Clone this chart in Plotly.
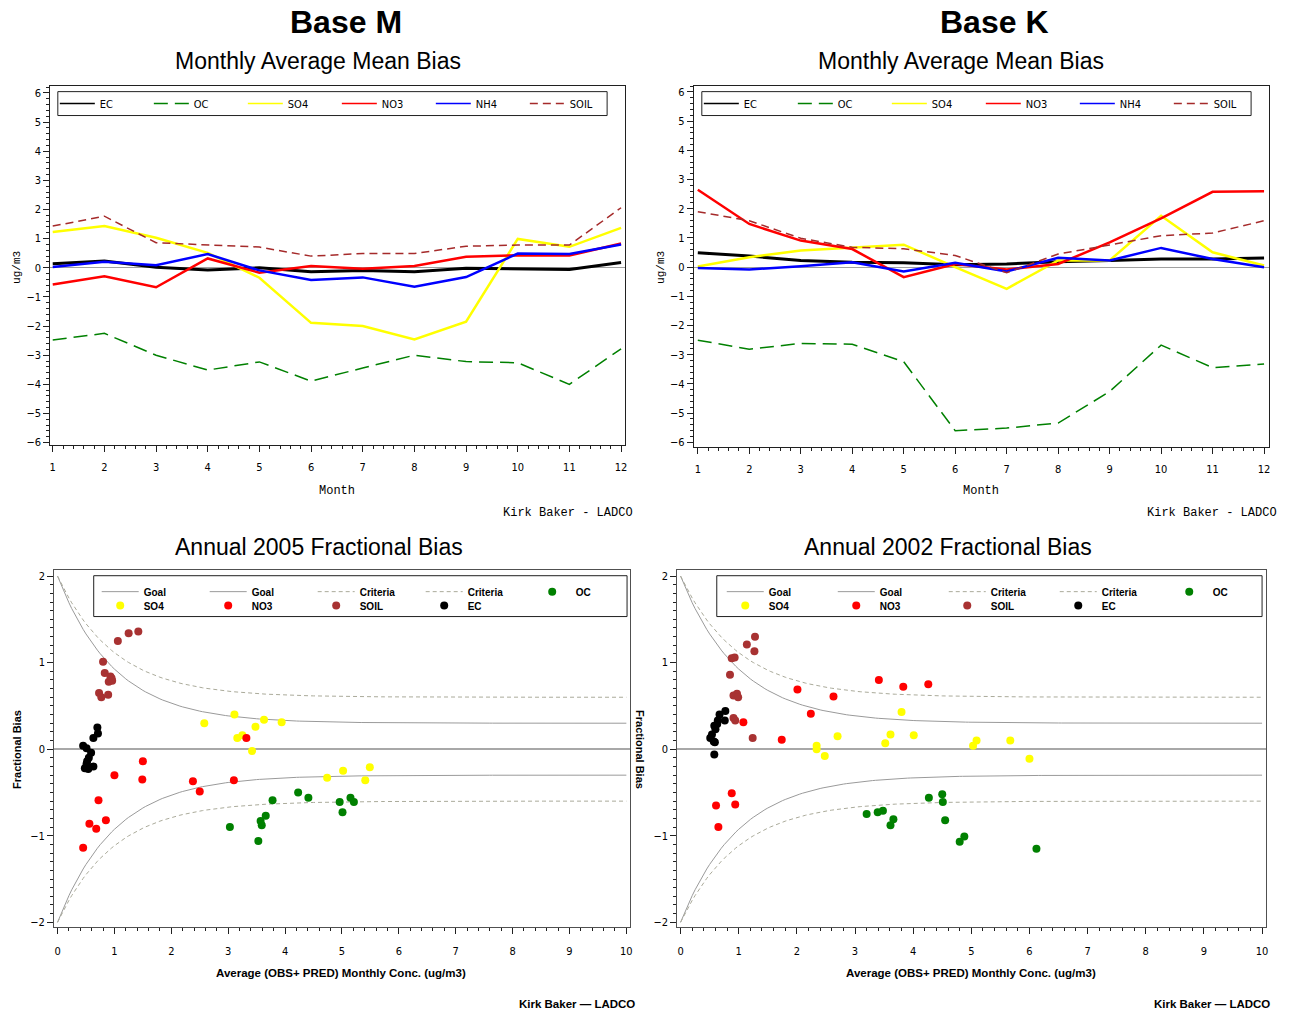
import numpy as np
import plotly.graph_objects as go

W, H = 1289, 1013

# ---------------- data ----------------
months = [1, 2, 3, 4, 5, 6, 7, 8, 9, 10, 11, 12]
species_top = ["EC", "OC", "SO4", "NO3", "NH4", "SOIL"]

# Base M monthly mean bias (ug/m3)
M_EC = [0.14, 0.23, 0.02, -0.08, 0.00, -0.14, -0.09, -0.14, -0.02, -0.03, -0.06, 0.18]
M_OC = [-2.48, -2.25, -3.00, -3.51, -3.23, -3.89, -3.44, -3.00, -3.22, -3.26, -4.00, -2.78]
M_SO4 = [1.23, 1.43, 1.03, 0.51, -0.34, -1.89, -2.00, -2.46, -1.85, 0.99, 0.72, 1.37]
M_NO3 = [-0.57, -0.29, -0.67, 0.32, -0.17, 0.06, -0.03, 0.06, 0.38, 0.43, 0.42, 0.83]
M_NH4 = [0.03, 0.21, 0.09, 0.47, -0.09, -0.42, -0.33, -0.65, -0.32, 0.49, 0.47, 0.80]
M_SOIL = [1.43, 1.77, 0.86, 0.78, 0.71, 0.40, 0.49, 0.49, 0.74, 0.78, 0.78, 2.06]

# Base K monthly mean bias (ug/m3)
K_EC = [0.49, 0.38, 0.23, 0.17, 0.15, 0.08, 0.11, 0.19, 0.23, 0.28, 0.28, 0.31]
K_OC = [-2.50, -2.81, -2.61, -2.64, -3.24, -5.60, -5.51, -5.34, -4.26, -2.67, -3.44, -3.32]
K_SO4 = [0.02, 0.34, 0.57, 0.68, 0.77, 0.00, -0.74, 0.23, 0.23, 1.76, 0.51, 0.06]
K_NO3 = [2.65, 1.48, 0.91, 0.62, -0.34, 0.11, -0.08, 0.11, 0.85, 1.67, 2.58, 2.60]
K_NH4 = [-0.03, -0.08, 0.03, 0.17, -0.15, 0.15, -0.15, 0.32, 0.23, 0.66, 0.28, 0.00]
K_SOIL = [1.90, 1.59, 0.99, 0.68, 0.63, 0.40, -0.19, 0.45, 0.76, 1.08, 1.17, 1.59]

# Annual 2005 fractional bias: x = average (OBS+PRED) conc, y = fractional bias
A05_SO4_x = [2.58, 3.11, 3.16, 3.25, 3.42, 3.48, 3.63, 3.94, 4.74, 5.02, 5.41, 5.49]
A05_SO4_y = [0.30, 0.40, 0.13, 0.16, -0.02, 0.26, 0.34, 0.31, -0.33, -0.25, -0.36, -0.21]
A05_NO3_x = [1.50, 1.00, 1.49, 2.38, 2.50, 3.10, 3.32, 0.72, 0.56, 0.85, 0.68, 0.45]
A05_NO3_y = [-0.14, -0.30, -0.35, -0.37, -0.49, -0.36, 0.13, -0.59, -0.86, -0.82, -0.92, -1.14]
A05_SOIL_x = [1.42, 1.25, 1.06, 0.80, 0.83, 0.93, 0.96, 0.90, 0.73, 0.77, 0.89, 0.95]
A05_SOIL_y = [1.36, 1.34, 1.25, 1.01, 0.88, 0.84, 0.79, 0.78, 0.65, 0.60, 0.63, 0.82]
A05_EC_x = [0.70, 0.71, 0.63, 0.45, 0.51, 0.59, 0.55, 0.52, 0.51, 0.63, 0.48, 0.54]
A05_EC_y = [0.25, 0.18, 0.13, 0.04, 0.01, -0.04, -0.10, -0.14, -0.17, -0.20, -0.22, -0.23]
A05_OC_x = [3.03, 3.53, 3.57, 3.59, 3.66, 3.78, 4.23, 4.41, 4.96, 5.01, 5.15, 5.21]
A05_OC_y = [-0.90, -1.06, -0.83, -0.88, -0.77, -0.59, -0.50, -0.56, -0.61, -0.73, -0.56, -0.61]

# Annual 2002 fractional bias
A02_SO4_x = [3.80, 4.01, 3.61, 3.52, 2.70, 2.34, 2.34, 2.48, 5.03, 5.09, 5.67, 6.00]
A02_SO4_y = [0.43, 0.16, 0.17, 0.07, 0.15, 0.04, 0.00, -0.08, 0.04, 0.10, 0.10, -0.11]
A02_NO3_x = [3.41, 3.83, 4.26, 2.01, 2.63, 2.24, 1.08, 1.74, 0.88, 0.61, 0.94, 0.65]
A02_NO3_y = [0.80, 0.72, 0.75, 0.69, 0.61, 0.41, 0.31, 0.11, -0.51, -0.65, -0.64, -0.90]
A02_SOIL_x = [1.28, 1.14, 1.27, 0.93, 0.88, 0.85, 0.91, 0.97, 0.99, 0.91, 0.94, 1.24]
A02_SOIL_y = [1.30, 1.21, 1.13, 1.06, 1.05, 0.86, 0.62, 0.64, 0.60, 0.36, 0.33, 0.13]
A02_EC_x = [0.77, 0.67, 0.76, 0.64, 0.58, 0.60, 0.54, 0.51, 0.57, 0.59, 0.58, 0.63]
A02_EC_y = [0.44, 0.40, 0.33, 0.33, 0.27, 0.23, 0.17, 0.13, 0.09, 0.08, -0.06, 0.29]
A02_OC_x = [3.20, 3.39, 3.48, 3.61, 3.66, 4.27, 4.50, 4.51, 4.55, 4.80, 4.88, 6.12]
A02_OC_y = [-0.75, -0.73, -0.71, -0.88, -0.81, -0.56, -0.52, -0.61, -0.82, -1.07, -1.01, -1.15]

# Fractional-bias goal / criteria definitions: +/-(amp * exp(-conc) + floor)
GOAL_AMP, GOAL_FLOOR = 1.7, 0.3
CRIT_AMP, CRIT_FLOOR = 1.4, 0.6
conc_grid = np.linspace(0, 10, 201)

# ---------------- styles ----------------
COL = {"EC": "#000000", "OC": "#008000", "SO4": "#FFFF00", "NO3": "#FF0000",
       "NH4": "#0000FF", "SOIL": "#A52A2A"}
DOT_COL = {"EC": "#000000", "OC": "#008000", "SO4": "#FFFF00", "NO3": "#FF0000",
           "SOIL": "#A83232"}
LINE_W = {"EC": 3, "OC": 1.5, "SO4": 2.5, "NO3": 2.5, "NH4": 2.5, "SOIL": 1.5}
LINE_DASH = {"EC": "solid", "OC": "14px,7px", "SO4": "solid", "NO3": "solid",
             "NH4": "solid", "SOIL": "8px,5px"}
NARROW = "Liberation Sans Narrow, DejaVu Sans Condensed, Arial Narrow, Liberation Sans, sans-serif"
SANS = "Liberation Sans, Arial, Helvetica, sans-serif"
MONO = "Liberation Mono, DejaVu Sans Mono, monospace"


def px(x):
    return x / W


def py(y):
    return 1 - y / H


fig = go.Figure()

# ---------------- top monthly panels ----------------
top_sets = [
    ("x", "y", "legend", {"EC": M_EC, "OC": M_OC, "SO4": M_SO4, "NO3": M_NO3, "NH4": M_NH4, "SOIL": M_SOIL}),
    ("x2", "y2", "legend2", {"EC": K_EC, "OC": K_OC, "SO4": K_SO4, "NO3": K_NO3, "NH4": K_NH4, "SOIL": K_SOIL}),
]
for xa, ya, lg, data in top_sets:
    for sp in species_top:
        fig.add_trace(go.Scatter(
            x=months, y=data[sp], mode="lines", name=sp,
            line=dict(color=COL[sp], width=LINE_W[sp], dash=LINE_DASH[sp]),
            xaxis=xa, yaxis=ya, showlegend=False, hoverinfo="skip"))
    # thin legend keys (legend only, no data)
    for sp in species_top:
        fig.add_trace(go.Scatter(
            x=[None], y=[None], mode="lines", name=sp,
            line=dict(color=COL[sp], width=1.5, dash=LINE_DASH[sp]),
            xaxis=xa, yaxis=ya, legend=lg, showlegend=True, hoverinfo="skip"))

# ---------------- bottom fractional-bias panels ----------------
goal_up = GOAL_AMP * np.exp(-conc_grid) + GOAL_FLOOR
crit_up = CRIT_AMP * np.exp(-conc_grid) + CRIT_FLOOR

bottom_sets = [
    ("x3", "y3", "legend3", "legend4",
     {"SO4": (A05_SO4_x, A05_SO4_y), "NO3": (A05_NO3_x, A05_NO3_y), "SOIL": (A05_SOIL_x, A05_SOIL_y),
      "EC": (A05_EC_x, A05_EC_y), "OC": (A05_OC_x, A05_OC_y)}),
    ("x4", "y4", "legend5", "legend6",
     {"SO4": (A02_SO4_x, A02_SO4_y), "NO3": (A02_NO3_x, A02_NO3_y), "SOIL": (A02_SOIL_x, A02_SOIL_y),
      "EC": (A02_EC_x, A02_EC_y), "OC": (A02_OC_x, A02_OC_y)}),
]
for xa, ya, lg1, lg2, data in bottom_sets:
    for yy in (goal_up, -goal_up):
        fig.add_trace(go.Scatter(x=conc_grid, y=yy, mode="lines", name="Goal",
                                 line=dict(color="#9A9A9A", width=1), xaxis=xa, yaxis=ya,
                                 legend=lg1, hoverinfo="skip"))
    for yy in (crit_up, -crit_up):
        fig.add_trace(go.Scatter(x=conc_grid, y=yy, mode="lines", name="Criteria",
                                 line=dict(color="#AAAA9A", width=1, dash="4px,3px"), xaxis=xa, yaxis=ya,
                                 legend=lg1, hoverinfo="skip"))
    fig.add_trace(go.Scatter(x=data["OC"][0], y=data["OC"][1], mode="markers", name="OC",
                             marker=dict(color=DOT_COL["OC"], size=8), xaxis=xa, yaxis=ya,
                             legend=lg1, hoverinfo="skip"))
    for sp in ["SO4", "NO3", "SOIL", "EC"]:
        fig.add_trace(go.Scatter(x=data[sp][0], y=data[sp][1], mode="markers", name=sp,
                                 marker=dict(color=DOT_COL[sp], size=8), xaxis=xa, yaxis=ya,
                                 legend=lg2, hoverinfo="skip"))

# ---------------- axes ----------------
tickfont = dict(family=NARROW, size=11, color="#000")
common = dict(showgrid=False, showline=True, linecolor="#202020", linewidth=1, mirror=True,
              ticks="outside", ticklen=6, tickcolor="#202020", tickfont=tickfont, zeroline=False)


def top_axes(xname, yname, xdom, ydom, xr, yr, anchor_x, anchor_y):
    fig.update_layout(**{
        xname: dict(common, domain=[px(xdom[0]), px(xdom[1])], range=xr, dtick=1, tick0=1,
                    anchor=anchor_y, ticklabelstandoff=6,
                    minor=dict(dtick=0.2, tick0=1, ticks="outside", ticklen=3, tickcolor="#202020")),
        yname: dict(common, domain=[py(ydom[1]), py(ydom[0])], range=yr, dtick=1, tick0=0,
                    anchor=anchor_x, zeroline=True, zerolinecolor="#A0A0A0", zerolinewidth=1.2,
                    minor=dict(dtick=0.2, tick0=0, ticks="outside", ticklen=3, tickcolor="#202020")),
    })


def bot_axes(xname, yname, xdom, ydom, xr, yr, anchor_x, anchor_y):
    fig.update_layout(**{
        xname: dict(common, domain=[px(xdom[0]), px(xdom[1])], range=xr, dtick=1, tick0=0,
                    anchor=anchor_y, linecolor="#505050", ticklabelstandoff=7,
                    minor=dict(dtick=0.2, tick0=0, ticks="outside", ticklen=3, tickcolor="#202020")),
        yname: dict(common, domain=[py(ydom[1]), py(ydom[0])], range=yr, dtick=1, tick0=0,
                    anchor=anchor_x, linecolor="#505050", zeroline=True, zerolinecolor="#A8A8A8",
                    zerolinewidth=1.5,
                    minor=dict(dtick=0.1, tick0=0, ticks="outside", ticklen=3, tickcolor="#202020")),
    })


top_axes("xaxis", "yaxis", (49.5, 626), (86, 447), [0.954, 12.077], [-6.09, 6.25], "x", "y")
top_axes("xaxis2", "yaxis2", (695, 1272), (86.5, 448.5), [0.923, 12.097], [-6.15, 6.2], "x2", "y2")
bot_axes("xaxis3", "yaxis3", (53.3, 631), (572.7, 931), [-0.06, 10.065], [-2.058, 2.065], "x3", "y3")
bot_axes("xaxis4", "yaxis4", (678.3, 1269.3), (572.7, 931), [-0.058, 10.074], [-2.058, 2.065], "x4", "y4")

# ---------------- legends ----------------
top_leg_font = dict(family=NARROW, size=11, color="#000")
bot_leg_font = dict(family=SANS, size=10, color="#000", weight="bold")
clear = "rgba(0,0,0,0)"
fig.update_layout(
    legend=dict(orientation="h", x=px(54), y=py(104), xanchor="left", yanchor="middle",
                borderwidth=0, bgcolor=clear, font=top_leg_font,
                entrywidth=44, itemwidth=35, traceorder="normal", tracegroupgap=0),
    legend2=dict(orientation="h", x=px(700), y=py(104), xanchor="left", yanchor="middle",
                 borderwidth=0, bgcolor=clear, font=top_leg_font,
                 entrywidth=44, itemwidth=35, traceorder="normal", tracegroupgap=0),
    legend3=dict(orientation="h", x=px(96), y=py(594), xanchor="left", yanchor="middle",
                 borderwidth=0, bgcolor=clear, font=bot_leg_font,
                 entrywidth=56, itemwidth=37, traceorder="normal"),
    legend4=dict(orientation="h", x=px(96), y=py(608), xanchor="left", yanchor="middle",
                 borderwidth=0, bgcolor=clear, font=bot_leg_font,
                 entrywidth=56, itemwidth=37, traceorder="normal"),
    legend5=dict(orientation="h", x=px(723), y=py(594), xanchor="left", yanchor="middle",
                 borderwidth=0, bgcolor=clear, font=bot_leg_font,
                 entrywidth=59, itemwidth=37, traceorder="normal"),
    legend6=dict(orientation="h", x=px(723), y=py(608), xanchor="left", yanchor="middle",
                 borderwidth=0, bgcolor=clear, font=bot_leg_font,
                 entrywidth=59, itemwidth=37, traceorder="normal"),
)

# legend frames
for x0, x1, y0, y1 in ((57, 608, 92, 116), (703, 1254, 92, 116), (93, 628, 578, 619), (718, 1265, 578, 619)):
    fig.add_shape(type="rect", xref="paper", yref="paper", x0=px(x0), x1=px(x1), y0=py(y1), y1=py(y0),
                  line=dict(color="#202020", width=1), fillcolor=clear, layer="above")

# ---------------- text ----------------
ann = []


def text(t, x, y, size, family=SANS, bold=False, angle=0, xanchor="center"):
    ann.append(dict(text=t, x=px(x), y=py(y), xref="paper", yref="paper", showarrow=False,
                    xanchor=xanchor, yanchor="middle", textangle=angle,
                    font=dict(family=family, size=size, color="#000", weight="bold" if bold else "normal")))


text("Base M", 346, 22, 32, bold=True)
text("Base K", 997, 22, 32, bold=True)
text("Monthly Average Mean Bias", 318, 61, 23)
text("Monthly Average Mean Bias", 963, 61, 23)
text("Annual 2005 Fractional Bias", 319, 549, 23)
text("Annual 2002 Fractional Bias", 950, 549, 23)
text("ug/m3", 16, 268, 11, family=MONO, angle=-90)
text("ug/m3", 662, 268, 11, family=MONO, angle=-90)
text("Month", 337, 493, 12, family=MONO)
text("Month", 983, 493, 12, family=MONO)
text("Kirk Baker - LADCO", 569, 515, 12, family=MONO)
text("Kirk Baker - LADCO", 1215, 515, 12, family=MONO)
text("Fractional Bias", 16, 752, 11, bold=True, angle=-90)
text("Fractional Bias", 641, 752, 11, bold=True, angle=90)
text("Average (OBS+ PRED) Monthly Conc. (ug/m3)", 341, 977, 11.5, bold=True)
text("Average (OBS+ PRED) Monthly Conc. (ug/m3)", 973, 977, 11.5, bold=True)
text("Kirk Baker \u2014 LADCO", 578, 1008, 11.5, bold=True)
text("Kirk Baker \u2014 LADCO", 1215, 1008, 11.5, bold=True)

fig.update_layout(
    width=W, height=H, margin=dict(l=0, r=0, t=0, b=0),
    paper_bgcolor="white", plot_bgcolor="white",
    annotations=ann, hovermode=False,
)

fig.write_html("out.html", config={"displayModeBar": False},
               post_script="document.body.style.margin='0';document.body.style.overflow='hidden';")
